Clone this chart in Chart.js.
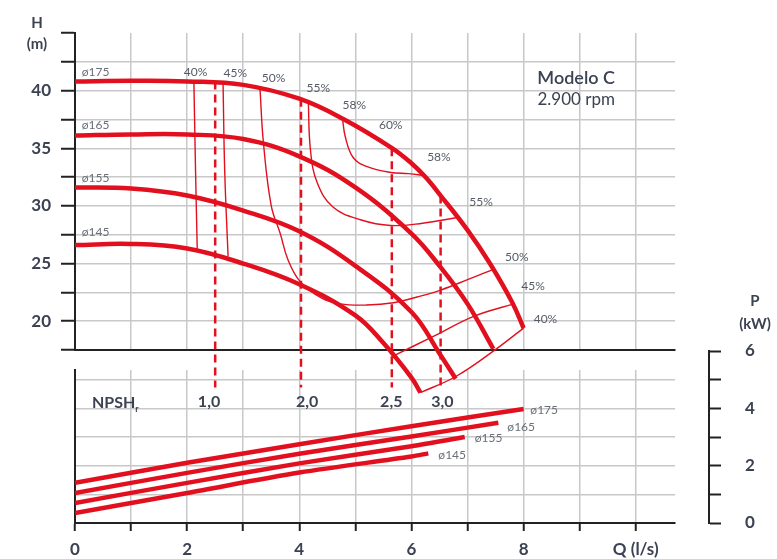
<!DOCTYPE html>
<html>
<head>
<meta charset="utf-8">
<script src="https://cdn.jsdelivr.net/npm/chart.js@4.4.1/dist/chart.umd.min.js"></script>
<style>
  body { margin: 0; background: #fff; }
  #wrap { position: relative; width: 777px; height: 559px; font-family: Lato, sans-serif; color: #3b4252; }
  #wrap canvas { position: absolute; left: 0; top: 0; }
  .lbl { position: absolute; font-weight: bold; font-size: 15px; line-height: 16px; text-align: center; }
</style>
</head>
<body>
<div id="wrap">
  <canvas id="powerChart" width="777" height="559"></canvas>
  <canvas id="powerAxis" width="777" height="559"></canvas>
  <canvas id="headChart" width="777" height="559"></canvas>
  <div class="lbl" style="left:22px;top:14px;width:30px">H</div>
  <div class="lbl" style="left:17px;top:35px;width:40px">(m)</div>
  <div class="lbl" style="left:735px;top:292px;width:40px">P</div>
  <div class="lbl" style="left:730px;top:315px;width:50px">(kW)</div>
  <div class="lbl" style="left:455px;top:68px;width:160px;text-align:right;font-size:18px;line-height:19px;font-weight:600">Modelo C</div>
  <div class="lbl" style="left:455px;top:91px;width:160px;text-align:right;font-size:17px;font-weight:normal">2.900 rpm</div>
  <div class="lbl" style="left:92px;top:394px;text-align:left;font-size:16px">NPSH<sub style="font-size:9px">r</sub></div>
</div>
<script>
// ---- data ----
const diameters = ['ø175', 'ø165', 'ø155', 'ø145'];

// H (m) vs Q (l/s)
const head175 = [[0, 40.8], [1, 40.85], [2, 40.8], [3, 40.5], [4, 39.3], [4.8, 37.5], [5.66, 35.0], [6, 33.7], [6.25, 32.5], [6.52, 30.9], [7, 27.9], [7.4, 25.0], [7.8, 21.6], [8, 19.4]];
const head165 = [[0, 36.1], [1, 36.2], [2, 36.2], [3, 35.8], [4, 34.3], [5, 31.6], [6, 27.6], [6.5, 24.8], [7, 21.5], [7.46, 17.6]];
const head155 = [[0, 31.6], [1, 31.5], [2, 30.9], [3, 29.6], [4, 27.8], [5, 24.8], [6, 20.8], [6.5, 17.2], [6.79, 15.0]];
const head145 = [[0, 26.6], [1, 26.7], [2, 26.3], [3, 25.0], [4, 23.2], [5, 20.5], [5.5, 18.1], [6, 15.1], [6.16, 13.8]];

// P (kW) vs Q (l/s)
const power175 = [[0, 1.4], [2, 2.1], [4, 2.75], [6, 3.38], [8, 3.98]];
const power165 = [[0, 1.05], [2, 1.75], [4, 2.42], [6, 3.02], [7.55, 3.5]];
const power155 = [[0, 0.7], [2, 1.4], [4, 2.08], [6, 2.68], [6.95, 3.0]];
const power145 = [[0, 0.35], [2, 1.05], [4, 1.76], [6, 2.32], [6.3, 2.43]];

// iso-efficiency lines
const eff40a = [[2.12, 40.8], [2.15, 33], [2.18, 26.2]];
const eff45a = [[2.64, 40.75], [2.67, 33], [2.73, 25.6]];
const eff50 = [[3.3, 40.1], [3.36, 35.5], [3.5, 30], [3.66, 27.6], [3.8, 25.3], [4.02, 23.4], [4.4, 22.0], [4.73, 21.5], [5.2, 21.4], [5.68, 21.6], [6.1, 22.1], [6.52, 22.7], [7, 23.6], [7.46, 24.5]];
const eff55 = [[4.16, 39.1], [4.2, 34.8], [4.32, 32.0], [4.6, 29.9], [5.09, 28.8], [5.63, 28.3], [6.2, 28.5], [6.82, 29.0]];
const eff58 = [[4.77, 37.6], [4.82, 36.0], [4.96, 34.2], [5.21, 33.4], [5.63, 32.9], [5.95, 32.8], [6.22, 32.65]];
const eff45b = [[5.68, 17.0], [6.4, 18.7], [7.1, 20.4], [7.82, 21.5]];
const eff40b = [[6.16, 13.8], [6.79, 15.2], [7.46, 17.4], [8, 19.4]];
const effLabels = [[2.15, 41.6, '40%'], [2.86, 41.5, '45%'], [3.54, 41.1, '50%'], [4.34, 40.2, '55%'], [4.98, 38.7, '58%'], [5.63, 37.0, '60%'], [6.49, 34.2, '58%'], [7.24, 30.3, '55%'], [7.88, 25.6, '50%'], [8.17, 23.0, '45%'], [8.39, 20.2, '40%']];

// NPSHr (m) at given flow
const npshFlows = [2.5, 4.03, 5.65, 6.52];
const npshTops = [40.8, 39.3, 35.0, 30.9];
const npshBottom = 14.25;
const npshValues = ['1,0', '2,0', '2,5', '3,0'];
const npshLabelFlows = [2.39, 4.14, 5.64, 6.55];
const npshLabelLevel = 4.22;

const headLabelAt = [[0.12, 41.6], [0.12, 37.0], [0.12, 32.4], [0.12, 27.7]];
const powerLabelAt = [[8.12, 3.94], [7.71, 3.35], [7.13, 2.96], [6.48, 2.37]];

// ---- styles ----
const RED = '#e2101f';
const GRID = '#c8c8c8';
const AXIS = '#222';
const TEXT = '#3b4252';
Chart.defaults.font.family = 'Lato, sans-serif';
Chart.defaults.color = TEXT;

const pts = arr => arr.map(p => ({ x: p[0], y: p[1] }));

function textPlugin(id, yId, groups) {
    return {
        id: id,
        afterDatasetsDraw(chart) {
            const ctx = chart.ctx, xs = chart.scales.x, ys = chart.scales[yId];
            ctx.save();
            groups.forEach(g => {
                ctx.font = g.font;
                ctx.fillStyle = g.color;
                ctx.textAlign = g.align;
                ctx.textBaseline = 'middle';
                g.items.forEach(it => ctx.fillText(it[2], xs.getPixelForValue(it[0]), ys.getPixelForValue(it[1])));
            });
            ctx.restore();
        }
    };
}

function thick(data) {
    return { data: pts(data), borderColor: RED, borderWidth: 4.5, pointRadius: 0, tension: 0.4, clip: false };
}
function thin(data) {
    return { data: pts(data), borderColor: RED, borderWidth: 1.4, pointRadius: 0, tension: 0.4, clip: false };
}

// ---- head chart (top) ----
const headSets = [head175, head165, head155, head145].map(thick);
npshFlows.forEach((q, i) => {
    headSets.push({ data: [{ x: q, y: npshTops[i] }, { x: q, y: npshBottom }], borderColor: RED, borderWidth: 2.5,
        borderDash: [8, 5], pointRadius: 0, clip: false });
});
[eff40a, eff45a, eff50, eff55, eff58, eff45b, eff40b].forEach(e => headSets.push(thin(e)));

new Chart(document.getElementById('headChart'), {
    type: 'line',
    data: { datasets: headSets },
    options: {
        responsive: false,
        animation: false,
        layout: { padding: { left: 15, right: 102, top: 33, bottom: 209 } },
        plugins: { legend: { display: false }, tooltip: { enabled: false } },
        scales: {
            x: {
                type: 'linear', min: 0, max: 10.7,
                ticks: { display: false, stepSize: 1, includeBounds: false },
                grid: { color: GRID, lineWidth: 1.5, drawTicks: false },
                border: { color: AXIS, width: 2 },
                afterFit: s => { s.height = 0; }
            },
            y: {
                type: 'linear', min: 17.5, max: 45,
                afterBuildTicks: s => {
                    s.ticks = [];
                    for (let v = 17.5; v <= 45; v += 2.5) s.ticks.push({ value: v });
                },
                ticks: {
                    padding: 10,
                    font: { size: 17, weight: 'bold' },
                    callback: v => (v % 5 === 0 && v >= 20 && v <= 40) ? v : ''
                },
                grid: {
                    color: c => (c.tick && c.tick.value >= 44) ? 'rgba(0,0,0,0)' : GRID,
                    lineWidth: 1.5, tickLength: 14, tickColor: AXIS, tickWidth: 2
                },
                border: { color: AXIS, width: 2 },
                afterFit: s => { s.width = 60; }
            }
        }
    },
    plugins: [textPlugin('headText', 'y', [
        { font: '12px Lato', color: '#555b66', align: 'center', items: effLabels },
        { font: '12px Lato', color: '#6a6f78', align: 'left', items: headLabelAt.map((p, i) => [p[0], p[1], diameters[i]]) }
    ])]
});

// ---- power chart (bottom) ----
new Chart(document.getElementById('powerChart'), {
    type: 'line',
    data: { datasets: [power175, power165, power155, power145].map(p => ({ data: pts(p), borderColor: RED, borderWidth: 4.5, pointRadius: 0, tension: 0.3 })) },
    options: {
        responsive: false,
        animation: false,
        layout: { padding: { left: 73, right: 102, top: 370, bottom: 0 } },
        plugins: { legend: { display: false }, tooltip: { enabled: false } },
        scales: {
            x: {
                type: 'linear', min: 0, max: 10.7,
                ticks: {
                    stepSize: 1, includeBounds: false, autoSkip: false, maxRotation: 0, padding: 8,
                    font: { size: 17, weight: 'bold' },
                    callback: v => v === 10 ? 'Q (l/s)' : (v % 2 === 0 ? v : '')
                },
                grid: { color: GRID, lineWidth: 1.5, tickLength: 8, tickColor: AXIS, tickWidth: 2 },
                border: { color: AXIS, width: 2 },
                afterFit: s => { s.height = 36; }
            },
            y: {
                type: 'linear', min: 0, max: 5.34,
                ticks: { display: false, stepSize: 1, includeBounds: false },
                grid: { color: GRID, lineWidth: 1.5, drawTicks: false },
                border: { color: AXIS, width: 2 },
                afterFit: s => { s.width = 2; }
            }
        }
    },
    plugins: [textPlugin('powerText', 'y', [
        { font: '12px Lato', color: '#6a6f78', align: 'left', items: powerLabelAt.map((p, i) => [p[0], p[1], diameters[i]]) },
        { font: 'bold 16px Lato', color: TEXT, align: 'center', items: npshLabelFlows.map((q, i) => [q, npshLabelLevel, npshValues[i]]) }
    ])]
});

// ---- P axis (right) ----
new Chart(document.getElementById('powerAxis'), {
    type: 'line',
    data: { datasets: [] },
    options: {
        responsive: false,
        animation: false,
        layout: { padding: { left: 699, right: 0, top: 351, bottom: 36 } },
        plugins: { legend: { display: false }, tooltip: { enabled: false } },
        scales: {
            x: { type: 'linear', min: 0, max: 1, display: false },
            y: {
                type: 'linear', position: 'right', min: 0, max: 6,
                ticks: { stepSize: 1, padding: 24, font: { size: 17, weight: 'bold' }, callback: v => v % 2 === 0 ? v : '' },
                grid: { drawOnChartArea: false, tickLength: 12, tickColor: AXIS, tickWidth: 2 },
                border: { color: AXIS, width: 2 },
                afterFit: s => { s.width = 68; }
            }
        }
    }
});
</script>
</body>
</html>
